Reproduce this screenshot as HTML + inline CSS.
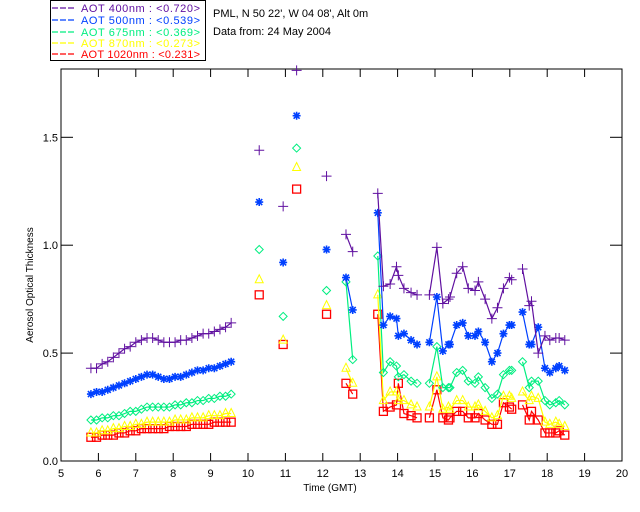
<!DOCTYPE html>
<html><head><meta charset="utf-8"><style>
html,body{margin:0;padding:0;background:#fff;}
svg{display:block;font-family:"Liberation Sans",sans-serif;}
</style></head><body>
<svg id="chart" width="640" height="512" viewBox="0 0 640 512" xmlns="http://www.w3.org/2000/svg">
<g>
<rect x="50.5" y="0.5" width="155" height="60" fill="#fff" stroke="#000"/>
<line x1="52" y1="8" x2="76" y2="8" style="stroke:#6010a0;stroke-width:1.3;stroke-dasharray:6 2"/>
<line x1="52" y1="20" x2="76" y2="20" style="stroke:#0040ff;stroke-width:1.3;stroke-dasharray:6 2"/>
<line x1="52" y1="32" x2="76" y2="32" style="stroke:#00ee80;stroke-width:1.3;stroke-dasharray:6 2"/>
<line x1="52" y1="43" x2="76" y2="43" style="stroke:#ffff00;stroke-width:1.3;stroke-dasharray:6 2"/>
<line x1="52" y1="54" x2="76" y2="54" style="stroke:#ff0000;stroke-width:1.3;stroke-dasharray:6 2"/>
<g font-size="11" xml:space="preserve">
<text x="81" y="12" fill="#6010a0" textLength="119" lengthAdjust="spacing">AOT  400nm : &lt;0.720&gt;</text>
<text x="81" y="24" fill="#0040ff" textLength="119" lengthAdjust="spacing">AOT  500nm : &lt;0.539&gt;</text>
<text x="81" y="36" fill="#00ee80" textLength="119" lengthAdjust="spacing">AOT  675nm : &lt;0.369&gt;</text>
<text x="81" y="47" fill="#ffff00" textLength="119" lengthAdjust="spacing">AOT  870nm : &lt;0.273&gt;</text>
<text x="81" y="58" fill="#ff0000" textLength="119" lengthAdjust="spacing">AOT 1020nm : &lt;0.231&gt;</text>
</g></g>
<text x="213" y="17" font-size="11">PML, N 50 22', W 04 08', Alt 0m</text>
<text x="213" y="35" font-size="11">Data from: 24 May 2004</text>
<text x="330" y="491" font-size="10" text-anchor="middle">Time (GMT)</text>
<text transform="translate(33,285) rotate(-90)" font-size="10" text-anchor="middle">Aerosol Optical Thickness</text>
<g id="axes"></g>
<g id="marks"></g>
</svg>
<script>
const xTicks=[5,6,7,8,9,10,11,12,13,14,15,16,17,18,19,20];
const yTicks=[0.0,0.5,1.0,1.5];
const yTickLabels=["0.0","0.5","1.0","1.5"];
const segTimes=[
[5.8,5.95,6.1,6.25,6.4,6.55,6.7,6.85,7.0,7.15,7.3,7.45,7.6,7.75,7.9,8.05,8.2,8.35,8.5,8.65,8.8,8.95,9.1,9.25,9.4,9.55],
[10.3],[10.94],[11.3],[12.1],[12.62,12.8],
[13.47,13.62,13.80,13.97,14.02,14.17,14.36,14.52],
[14.85,15.05,15.21,15.36,15.40,15.58,15.74,15.89,16.07,16.16,16.34,16.52,16.67,16.83,16.99,17.05],
[17.34,17.52,17.58,17.76,17.94,18.07,18.23,18.32,18.47]];
const aot400=[
[0.43,0.43,0.45,0.46,0.48,0.50,0.52,0.53,0.55,0.56,0.57,0.57,0.56,0.55,0.55,0.55,0.56,0.56,0.57,0.58,0.59,0.59,0.60,0.61,0.62,0.64],
[1.44],[1.18],[1.81],[1.32],[1.05,0.97],
[1.24,0.81,0.82,0.90,0.86,0.80,0.78,0.77],
[0.77,0.99,0.73,0.75,0.76,0.87,0.90,0.80,0.79,0.83,0.75,0.66,0.71,0.80,0.85,0.84],
[0.89,0.72,0.74,0.50,0.58,0.56,0.57,0.57,0.56]];
const aot500=[
[0.31,0.32,0.32,0.33,0.34,0.35,0.36,0.37,0.38,0.39,0.40,0.40,0.39,0.38,0.38,0.39,0.39,0.40,0.41,0.42,0.42,0.43,0.43,0.44,0.45,0.46],
[1.20],[0.92],[1.60],[0.98],[0.85,0.70],
[1.15,0.63,0.67,0.66,0.58,0.59,0.56,0.54],
[0.55,0.76,0.51,0.54,0.54,0.63,0.64,0.58,0.58,0.60,0.55,0.46,0.50,0.59,0.63,0.63],
[0.69,0.54,0.54,0.62,0.43,0.41,0.43,0.44,0.42]];
const aot675=[
[0.19,0.19,0.20,0.20,0.21,0.21,0.22,0.23,0.23,0.24,0.25,0.25,0.25,0.25,0.25,0.26,0.26,0.27,0.27,0.28,0.28,0.29,0.29,0.30,0.30,0.31],
[0.98],[0.67],[1.45],[0.79],[0.83,0.47],
[0.95,0.41,0.46,0.44,0.39,0.40,0.37,0.36],
[0.36,0.53,0.34,0.34,0.34,0.41,0.42,0.37,0.36,0.39,0.34,0.29,0.31,0.40,0.42,0.42],
[0.46,0.34,0.37,0.37,0.28,0.26,0.27,0.28,0.26]];
const aot870=[
[0.13,0.13,0.14,0.14,0.15,0.15,0.16,0.16,0.17,0.17,0.18,0.18,0.18,0.18,0.18,0.19,0.19,0.19,0.20,0.20,0.20,0.21,0.21,0.21,0.22,0.22],
[0.84],[0.56],[1.36],[0.72],[0.43,0.36],
[0.77,0.28,0.32,0.32,0.28,0.28,0.26,0.25],
[0.25,0.39,0.24,0.25,0.24,0.28,0.28,0.25,0.25,0.26,0.23,0.20,0.21,0.30,0.30,0.29],
[0.32,0.28,0.30,0.29,0.18,0.17,0.18,0.17,0.16]];
const aot1020=[
[0.11,0.11,0.12,0.12,0.12,0.13,0.13,0.14,0.14,0.15,0.15,0.15,0.15,0.15,0.16,0.16,0.16,0.16,0.17,0.17,0.17,0.17,0.18,0.18,0.18,0.18],
[0.77],[0.54],[1.26],[0.68],[0.36,0.31],
[0.68,0.23,0.25,0.26,0.36,0.22,0.21,0.20],
[0.20,0.33,0.20,0.19,0.20,0.23,0.23,0.20,0.20,0.22,0.19,0.17,0.17,0.27,0.25,0.24],
[0.26,0.19,0.23,0.19,0.13,0.13,0.13,0.14,0.12]];

const NS='http://www.w3.org/2000/svg';
const X0=61,X1=622,Y0=461,YT=69;
function sx(t){return X0+(t-5)/(20-5)*(X1-X0);}
function sy(v){return Y0-v*215.8;}
function mk(tag,attrs,parent){const e=document.createElementNS(NS,tag);for(const k in attrs)e.setAttribute(k,attrs[k]);parent.appendChild(e);return e;}
const axes=document.getElementById('axes');
const frame=mk('rect',{x:X0,y:YT,width:X1-X0,height:Y0-YT,fill:'none',stroke:'#000','stroke-width':1},axes);


xTicks.forEach(t=>{
  const x=sx(t);
  mk('line',{x1:x,y1:Y0,x2:x,y2:Y0-8,stroke:'#000'},axes);
  mk('line',{x1:x,y1:YT,x2:x,y2:YT+8,stroke:'#000'},axes);
  const tx=mk('text',{x:x,y:Y0+16,'font-size':11,'text-anchor':'middle'},axes);
  tx.textContent=String(t);
  
  
});
yTicks.forEach((v,i)=>{
  const y=sy(v);
  mk('line',{x1:X0,y1:y,x2:X0+12,y2:y,stroke:'#000'},axes);
  mk('line',{x1:X1,y1:y,x2:X1-12,y2:y,stroke:'#000'},axes);
  const tx=mk('text',{x:X0-3,y:y+4,'font-size':11,'text-anchor':'end'},axes);
  tx.textContent=yTickLabels[i];
  
  
});
const marks=document.getElementById('marks');
const series=[
 {name:'aot-400',vals:aot400,color:'#6010a0',sym:'plus'},
 {name:'aot-500',vals:aot500,color:'#0040ff',sym:'star'},
 {name:'aot-675',vals:aot675,color:'#00ee80',sym:'diamond'},
 {name:'aot-870',vals:aot870,color:'#ffff00',sym:'triangle'},
 {name:'aot-1020',vals:aot1020,color:'#ff0000',sym:'square'}];
function marker(g,s,x,y,c){
  let e;
  if(s==='plus'){e=mk('path',{d:`M${x-5} ${y}H${x+5}M${x} ${y-5}V${y+5}`,stroke:c,fill:'none'},g);}
  else if(s==='star'){e=mk('path',{d:`M${x-4} ${y}H${x+4}M${x} ${y-4}V${y+4}M${x-3} ${y-3}L${x+3} ${y+3}M${x-3} ${y+3}L${x+3} ${y-3}`,stroke:c,'stroke-width':1.6,fill:'none'},g);}
  else if(s==='diamond'){e=mk('path',{d:`M${x} ${y-4}L${x+4} ${y}L${x} ${y+4}L${x-4} ${y}Z`,stroke:c,fill:'none'},g);}
  else if(s==='triangle'){e=mk('path',{d:`M${x} ${y-5}L${x+4} ${y+3}L${x-4} ${y+3}Z`,stroke:c,fill:'none'},g);}
  else {e=mk('rect',{x:x-4,y:y-4,width:8,height:8,stroke:c,fill:'none','stroke-width':1.3},g);}
  
  
}
series.slice().reverse().forEach(s=>{
  const g=mk('g',{},marks);
  
  
  segTimes.forEach((ts,si)=>{
    const pts=ts.map((t,i)=>[sx(t),sy(s.vals[si][i])]);
    if(pts.length>1){
      const l=mk('polyline',{points:pts.map(p=>p.join(',')).join(' '),fill:'none',stroke:s.color,'stroke-width':1.2},g);
      
      
    }
    pts.forEach(p=>marker(g,s.sym,p[0],p[1],s.color));
  });
});
</script>
</body></html>
